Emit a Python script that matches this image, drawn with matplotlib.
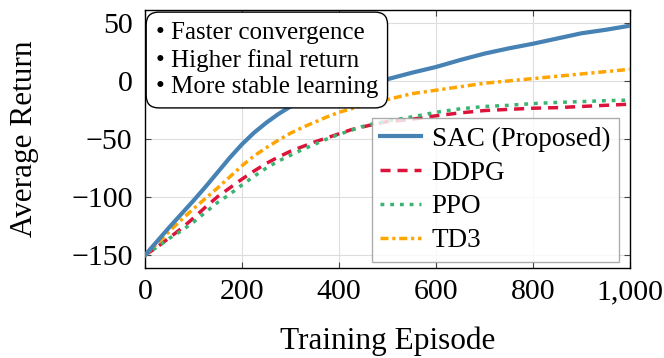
import numpy as np
import matplotlib
matplotlib.use("Agg")
import matplotlib.pyplot as plt
from matplotlib.ticker import FuncFormatter

# values
episodes = [0, 25, 50, 75, 100, 125, 150, 175, 200, 225, 250, 275, 300,
            325, 350, 375, 400, 425, 450, 475, 500,
            550, 600, 650, 700, 750, 800, 850, 900, 950, 1000]
sac = [-150, -138, -126, -114.5, -103, -91, -78.5, -66, -54.5, -44.5, -36, -28.5, -22,
       -16.5, -12.5, -9, -7, -5, -2.5, -0.5, 1.5,
       7, 12, 18, 23.5, 28, 32, 36.5, 41, 44, 47.5]
ddpg = [-150, -143, -135, -127, -118, -108.5, -99.5, -92, -84.5, -77.5, -71, -65.5, -60.5,
        -56.5, -52.5, -49, -45.5, -42, -39.5, -37, -35,
        -33, -30, -27.5, -25.5, -24.5, -23.5, -23, -22, -21, -20]
ppo = [-150, -143, -135.5, -129, -121.5, -113, -104.5, -97.5, -89.5, -82, -75, -69, -64,
       -59, -54.5, -50, -46, -42.5, -39, -36.5, -34.5,
       -31, -27, -24, -22, -21, -19.5, -18.5, -17.8, -17, -16.5]
td3 = [-150, -140, -129.5, -119.5, -110, -101, -92, -82.5, -73, -64.5, -57.5, -51, -45,
       -40, -35.5, -31, -27, -24, -21, -18.5, -16,
       -11, -8, -5, -2, 0, 2, 4, 6, 8, 10]

series_names = ["SAC (Proposed)", "DDPG", "PPO", "TD3"]
notes = ["Faster convergence", "Higher final return", "More stable learning"]
x_ticks = [0, 200, 400, 600, 800, 1000]
y_ticks = [-150, -100, -50, 0, 50]

plt.rcParams["font.family"] = ["Liberation Serif", "DejaVu Serif"]
plt.rcParams["axes.unicode_minus"] = True

fig = plt.figure(figsize=(6.64, 3.58), dpi=100)
ax = fig.add_axes([0.2184, 0.2514, 0.7304, 0.7206])

ax.plot(episodes, sac, color="#4682B4", lw=3.0, label=series_names[0], zorder=5)
ax.plot(episodes, ddpg, color="#DC143C", lw=2.5, dashes=(2.9, 2.0), label=series_names[1], zorder=4)
ax.plot(episodes, ppo, color="#3CB371", lw=2.5, dashes=(1.1, 1.7), label=series_names[2], zorder=4)
ax.plot(episodes, td3, color="#FFA500", lw=2.5, dashes=(2.3, 1.1, 0.9, 1.1), label=series_names[3], zorder=4)

ax.set_xlim(0, 1000)
ax.set_ylim(-161, 61)
ax.set_xticks(x_ticks)
ax.set_yticks(y_ticks)
ax.xaxis.set_major_formatter(FuncFormatter(lambda v, p: "{:,}".format(int(v))))
ax.yaxis.set_major_formatter(FuncFormatter(lambda v, p: str(int(v)).replace("-", "\u2212")))
ax.tick_params(direction="in", length=4, width=0.8, color="#444444",
               top=True, right=True, labelsize=21.5, pad=8)
ax.tick_params(axis="y", pad=9)
ax.grid(True, color="#dddddd", lw=0.8)
ax.set_axisbelow(True)
for sp in ax.spines.values():
    sp.set_linewidth(1.0)

ax.set_xlabel("Training Episode", fontsize=22.5, va="center")
ax.set_ylabel("Average Return", fontsize=22.5, va="center")
ax.xaxis.set_label_coords(0.5, -0.285)
ax.yaxis.set_label_coords(-0.248, 0.5)

leg = ax.legend(loc="lower right", bbox_to_anchor=(0.977, 0.023), borderaxespad=0,
                fontsize=19.5, handlelength=1.5, handletextpad=0.4, labelspacing=0.33,
                borderpad=0.32, fancybox=False, framealpha=0.8, edgecolor="#999999")
leg.get_frame().set_linewidth(1.0)
leg.set_zorder(10)

ax.text(0.022, 0.955, "\n".join("\u2022 " + n for n in notes), transform=ax.transAxes,
        ha="left", va="top", fontsize=18, linespacing=1.28, zorder=20,
        bbox=dict(boxstyle="round,pad=0.38,rounding_size=0.5", fc="white", ec="black", lw=1.0))

fig.savefig("out.png", dpi=100)
